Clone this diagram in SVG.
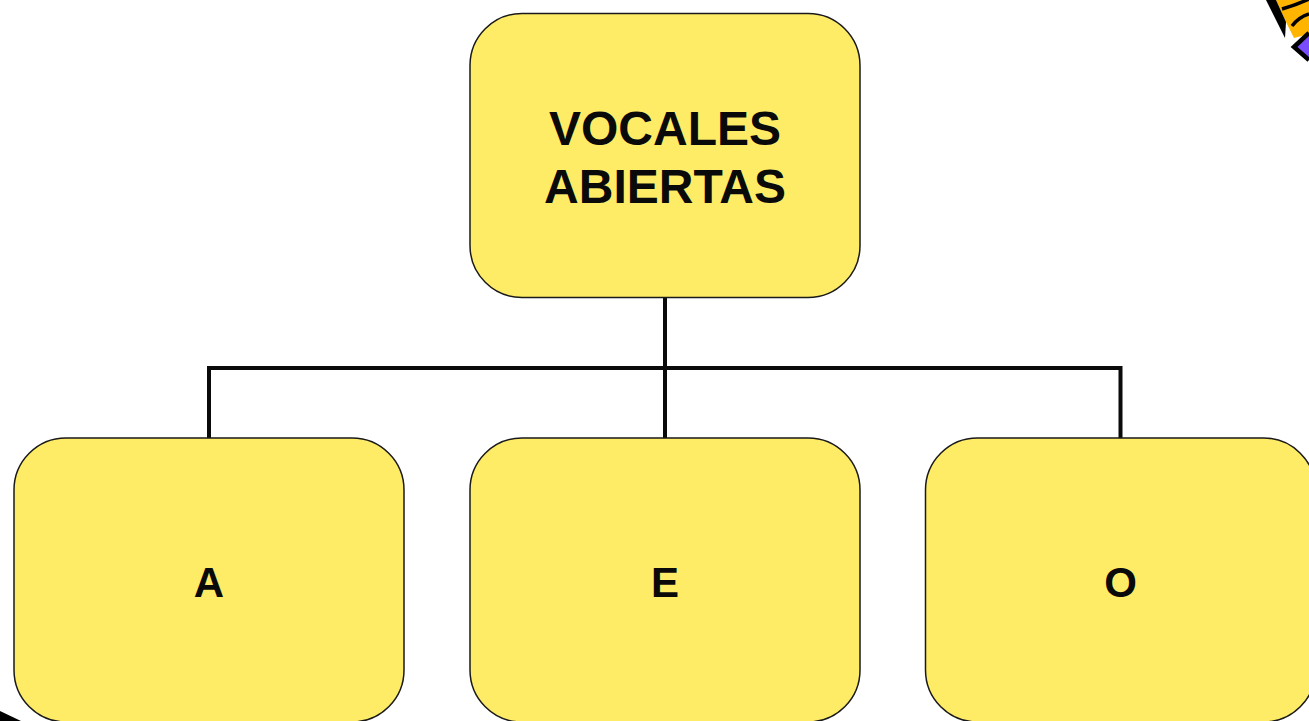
<svg xmlns="http://www.w3.org/2000/svg" width="1309" height="721" viewBox="0 0 1309 721">
<style>
.box{fill:#ffec66;stroke:#1a1a1a;stroke-width:1.5}
.conn{fill:none;stroke:#0a0a0a;stroke-width:4}
text{font-family:"Liberation Sans",Arial,sans-serif;font-weight:bold;fill:#0a0a0a;text-anchor:middle}
.t{font-size:48px}
.s{font-size:42px}
</style>
<g id="decor">
<path d="M1276 0H1309V34L1294 38L1286 22Z" fill="#ffb400"/>
<path d="M1266 0L1276 0L1286 22L1285 38Z" fill="#000"/>
<path d="M1282 9Q1296 5 1309 -1M1292 26Q1299 17 1309 14" fill="none" stroke="#000" stroke-width="3.500"/>
<path d="M1309 33L1294 47L1309 60" fill="#7a4dff" stroke="#000" stroke-width="4.500"/>
<path d="M0 711L21 721H0Z" fill="#000"/>
</g>
<g id="connectors">
<path class="conn" d="M665 297V438M209 438V368H1120.500V438"/>
</g>
<g id="node-root">
<rect class="box" x="470" y="13.500" width="390" height="284" rx="52"/>
<text class="t" x="665" y="145">VOCALES</text>
<text class="t" x="665" y="203">ABIERTAS</text>
</g>
<g id="node-a">
<rect class="box" x="14" y="438" width="390" height="284" rx="52"/>
<text class="s" x="209" y="597">A</text>
</g>
<g id="node-e">
<rect class="box" x="470" y="438" width="390" height="284" rx="52"/>
<text class="s" x="665" y="597">E</text>
</g>
<g id="node-o">
<rect class="box" x="925.500" y="438" width="390" height="284" rx="52"/>
<text class="s" x="1120.500" y="597">O</text>
</g>
</svg>
